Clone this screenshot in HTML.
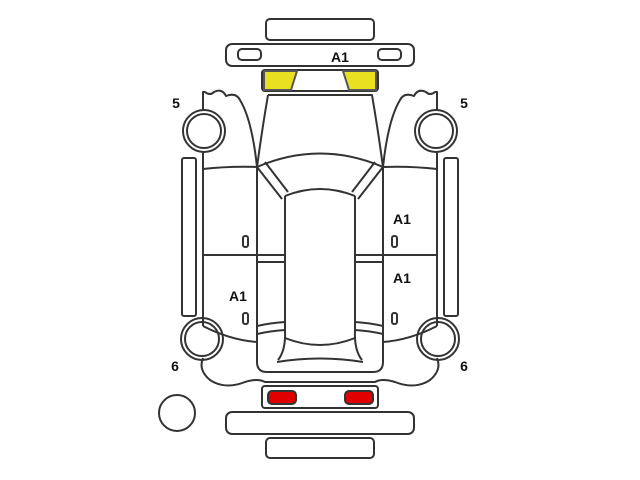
<!DOCTYPE html>
<html><head><style>html,body{margin:0;padding:0;background:#fff}svg{display:block}</style></head><body>
<svg width="640" height="480" viewBox="0 0 640 480" xmlns="http://www.w3.org/2000/svg">
<g fill="none" stroke="#333" stroke-width="2" stroke-linejoin="round">
<rect x="266" y="19" width="108" height="21" rx="4"/>
<rect x="226" y="44" width="188" height="22" rx="6"/>
<rect x="238" y="49" width="23" height="11" rx="4"/>
<rect x="378" y="49" width="23" height="11" rx="4"/>
<rect x="262" y="70" width="116" height="21" rx="3"/>
<path d="M264 71 H297 L291 90 H264 Z" fill="#e8e020" stroke="#555"/>
<path d="M343 71 H376 V90 H349 Z" fill="#e8e020" stroke="#555"/>
<path d="M268 95 H372 Q378 130 383 167"/>
<path d="M268 95 Q262 130 257 167"/>
<path d="M257 167 Q252 120 240 100 Q236 92 226 96 Q222 88 214 92 Q210 96 205 92 L203 92 V110"/>
<path d="M383 167 Q388 120 400 100 Q404 92 414 96 Q418 88 426 92 Q430 96 435 92 L437 92 V110"/>
<circle cx="204" cy="131" r="17"/>
<circle cx="204" cy="131" r="21"/>
<circle cx="436" cy="131" r="17"/>
<circle cx="436" cy="131" r="21"/>
<rect x="182" y="158" width="14" height="158" rx="2"/>
<rect x="444" y="158" width="14" height="158" rx="2"/>
<path d="M203 152 V326"/>
<path d="M437 152 V326"/>
<path d="M203 169 Q230 166 257 167"/>
<path d="M437 169 Q410 166 383 167"/>
<path d="M257 167 V362 Q257 372 267 372"/>
<path d="M383 167 V362 Q383 372 373 372"/>
<path d="M203 255 H285 M257 262 H285"/>
<path d="M437 255 H355 M383 262 H355"/>
<rect x="243" y="236" width="5" height="11" rx="2"/>
<rect x="243" y="313" width="5" height="11" rx="2"/>
<rect x="392" y="236" width="5" height="11" rx="2"/>
<rect x="392" y="313" width="5" height="11" rx="2"/>
<path d="M257 167 Q320 140 383 167"/>
<path d="M257 167 L282 199 M265 162 L288 192"/>
<path d="M383 167 L358 199 M375 162 L352 192"/>
<path d="M285 196 Q320 182 355 196"/>
<path d="M285 196 V330 Q286 350 278 360"/>
<path d="M355 196 V330 Q354 350 362 360"/>
<path d="M257 326 Q270 323 285 322 M257 334 Q270 331 285 330"/>
<path d="M383 326 Q370 323 355 322 M383 334 Q370 331 355 330"/>
<path d="M203 326 Q230 340 257 342"/>
<path d="M437 326 Q410 340 383 342"/>
<path d="M285 338 Q320 352 355 338"/>
<path d="M277 362 Q320 355 363 362"/>
<path d="M203 358 Q198 370 210 380 Q225 390 245 382 Q258 378 265 382 H375 Q382 378 395 382 Q415 390 430 380 Q442 370 437 358"/>
<path d="M267 372 H373"/>
<circle cx="202" cy="339" r="17"/>
<circle cx="202" cy="339" r="21"/>
<circle cx="438" cy="339" r="17"/>
<circle cx="438" cy="339" r="21"/>
<rect x="262" y="386" width="116" height="22" rx="3"/>
<rect x="268" y="391" width="28" height="13" rx="4" fill="#e00000"/>
<rect x="345" y="391" width="28" height="13" rx="4" fill="#e00000"/>
<rect x="226" y="412" width="188" height="22" rx="6"/>
<rect x="266" y="438" width="108" height="20" rx="4"/>
<circle cx="177" cy="413" r="18"/>
</g>
<g font-family="Liberation Sans, sans-serif" font-size="14" font-weight="bold" fill="#111" text-anchor="middle">
<text x="340" y="62">A1</text>
<text x="176" y="108">5</text>
<text x="464" y="108">5</text>
<text x="175" y="371">6</text>
<text x="464" y="371">6</text>
<text x="402" y="224">A1</text>
<text x="402" y="283">A1</text>
<text x="238" y="301">A1</text>
</g>
</svg>
</body></html>
